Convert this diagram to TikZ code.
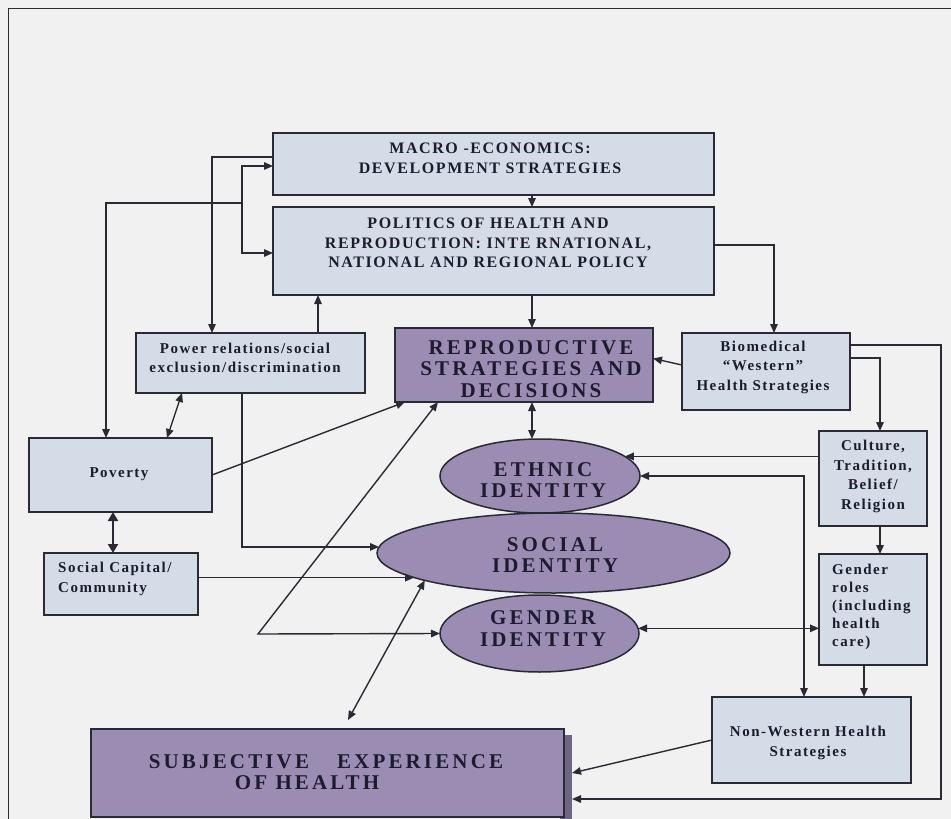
\documentclass[tikz,border=0pt]{standalone}
\usepackage{fontspec}
\setmainfont{Liberation Serif}
\newfontfamily\smallfam[LetterSpace=10]{Liberation Serif}
\newfontfamily\bigfam[LetterSpace=15]{Liberation Serif}
\usetikzlibrary{arrows.meta,shapes.geometric}
\definecolor{boxblue}{HTML}{D4DCE8}
\definecolor{boxpurple}{HTML}{9B8CB4}
\definecolor{shadowcol}{HTML}{6E6680}
\definecolor{bgcol}{HTML}{F1F1F1}
\definecolor{lncol}{HTML}{2A2A35}
\definecolor{txtcol}{HTML}{1C1C2E}
\begin{document}
\begin{tikzpicture}[x=1pt,y=-1pt,
  lightbox/.style={draw=lncol, line width=1.3pt, fill=boxblue, inner sep=0pt, outer sep=0pt},
  darkbox/.style={draw=lncol, line width=1.5pt, fill=boxpurple, inner sep=0pt, outer sep=0pt},
  oval/.style={ellipse, draw=lncol, line width=1.5pt, fill=boxpurple, inner sep=0pt, outer sep=0pt},
  smalltxt/.style={font=\smallfam\bfseries\fontsize{15}{19.5}\selectfont, text=txtcol, align=center, inner sep=0pt},
  medtxt/.style={font=\smallfam\bfseries\fontsize{16}{19.5}\selectfont, text=txtcol, align=center, inner sep=0pt},
  bigtxt/.style={font=\bigfam\bfseries\fontsize{21}{21.5}\selectfont, text=txtcol, align=center, inner sep=0pt},
  arr/.style={draw=lncol, line width=1.4pt, -{Triangle[length=9pt,width=7.5pt]}},
  arrb/.style={draw=lncol, line width=1.4pt, {Triangle[length=9pt,width=7.5pt]}-{Triangle[length=9pt,width=7.5pt]}},
  thickarr/.style={draw=lncol, line width=2.6pt, {Triangle[length=9pt,width=10pt]}-{Triangle[length=9pt,width=10pt]}}
]
\fill[bgcol] (0,0) rectangle (951,819);
\useasboundingbox (0,0) rectangle (951,819);
\draw[lncol, line width=1pt] (8,819) -- (8,8.5) -- (951,8.5);

% boxes
\node[lightbox, minimum width=441pt, minimum height=62pt] (macro) at (493.5,164) {};
\node[medtxt] (macrot) at (490,158.5) {MACRO -ECONOMICS:\\DEVELOPMENT STRATEGIES};
\node[lightbox, minimum width=441pt, minimum height=88pt] (politics) at (493.5,251) {};
\node[medtxt] (politicst) at (488,243) {POLITICS OF HEALTH AND\\REPRODUCTION: INTE RNATIONAL,\\NATIONAL AND REGIONAL POLICY};
\node[darkbox, minimum width=258pt, minimum height=74pt] (repro) at (524,365) {};
\node[bigtxt] (reprot) at (531,369) {REPRODUCTIVE\\STRATEGIES AND\\DECISIONS};
\node[lightbox, minimum width=168pt, minimum height=77pt] (biomed) at (766,371.5) {};
\node[smalltxt] (biomedt) at (763,367) {Biomedical\\“Western”\\Health Strategies};
\node[lightbox, minimum width=229pt, minimum height=60pt] (power) at (250.5,363) {};
\node[smalltxt] (powert) at (245,358) {Power relations/social\\exclusion/discrimination};
\node[lightbox, minimum width=183pt, minimum height=74pt] (poverty) at (120.5,475) {};
\node[smalltxt] (povertyt) at (119,474) {Poverty};
\node[lightbox, minimum width=154pt, minimum height=62pt] (socialcap) at (121,584) {};
\node[smalltxt, align=left, anchor=west] (socialcapt) at (58,579) {Social Capital/\\Community};
\node[lightbox, minimum width=108pt, minimum height=95pt] (culture) at (873,478.5) {};
\node[smalltxt] (culturet) at (873,476.5) {Culture,\\Tradition,\\Belief/\\Religion};
\node[lightbox, minimum width=108pt, minimum height=111pt] (genderroles) at (873,609.5) {};
\node[smalltxt, align=left, anchor=west, font=\smallfam\bfseries\fontsize{15}{18}\selectfont] (genderrolest) at (832,607) {Gender\\roles\\(including\\health\\care)};
\node[lightbox, minimum width=199pt, minimum height=86pt] (nonwestern) at (811.5,740) {};
\node[smalltxt] (nonwesternt) at (808,743) {Non-Western Health\\Strategies};
\fill[shadowcol] (560,735) rectangle (572,819);
\node[darkbox, minimum width=473pt, minimum height=88pt] (subjective) at (327.5,773) {};
\node[bigtxt] (subjectivet) at (326,772) {SUBJECTIVE\hspace{28pt}EXPERIENCE\\\hspace*{-38pt}OF HEALTH};

% ellipses
\node[oval, minimum width=200pt, minimum height=74pt] (ethnic) at (540,476) {};
\node[bigtxt] (ethnict) at (543,480) {ETHNIC\\IDENTITY};
\node[oval, minimum width=199pt, minimum height=77pt] (genderid) at (539.5,633.5) {};
\node[bigtxt] (genderidt) at (543,628.5) {GENDER\\IDENTITY};
\node[oval, minimum width=353pt, minimum height=80pt] (social) at (553.5,553) {};
\node[bigtxt] (socialt) at (555,555) {SOCIAL\\IDENTITY};

% helper coordinates
\coordinate (j) at (242,203);
\coordinate (r1) at (941,345);
\coordinate (r2) at (941,799);
\coordinate (k) at (258,634);
\coordinate (s0) at (348,720);

% connectors
\draw[arr] ([xshift=38.5]macro.south) -- ([xshift=38.5]politics.north);
\draw[arr] ([xshift=38.5]politics.south) -- ([xshift=8]repro.north);
\draw[arr] ([yshift=6]politics.east) -| ([xshift=8]biomed.north);
\draw[arr] ([yshift=6.5]biomed.west) -- ([yshift=6.5]repro.east);
\draw[arr] ([yshift=13.5]biomed.east) -| ([xshift=7]culture.north);
\draw[arr] ([yshift=26.5]biomed.east) -- (r1) -- (r2) -- ([xshift=8]r2 -| subjective.east);
\draw[arr] (ethnic.13.4 -| culture.west) -- (ethnic.13.4);
\draw[arrb] (ethnic.east) -| ([xshift=-7.5]nonwestern.north);
\draw[arr] ([xshift=7]culture.south) -- ([xshift=7]genderroles.north);
\draw[arrb] (genderid.3.8) -- (genderid.3.8 -| genderroles.west);
\draw[arr] ([xshift=-9]genderroles.south) -- ([xshift=52.5]nonwestern.north);
\draw[arr] (nonwestern.west) -- ([xshift=8]subjective.east);

\draw[arr] ([xshift=67.5]power.north) -- ([xshift=-175.5]politics.south);
\draw[arr] ([yshift=7]macro.west) -| ([xshift=-38.5]power.north);
\draw[arr] (j) |- ([yshift=-2]macro.west);
\draw[arr] (j) |- ([yshift=-2]politics.west);
\draw[arr] (j) -| ([xshift=-14.5]poverty.north);
\draw[arrb] ([xshift=-68.5]power.south) -- ([xshift=46.5]poverty.north);
\draw[thickarr] ([xshift=-7.5]poverty.south) -- ([xshift=-8]socialcap.north);
\draw[arr] (social.190.1 -| socialcap.east) -- (social.190.1);
\draw[arr] ([xshift=-8.5]power.south) |- (social.178.5);
\draw[arr] (poverty.east) -- ([xshift=10]repro.south west);
\draw[arrb] ([xshift=43]repro.south west) -- (k) -- (genderid.west);
\draw[arrb] (s0) -- (social.192.2);
\draw[arrb] ([xshift=8]repro.south) -- ([xshift=-8]ethnic.north);
\end{tikzpicture}
\end{document}
